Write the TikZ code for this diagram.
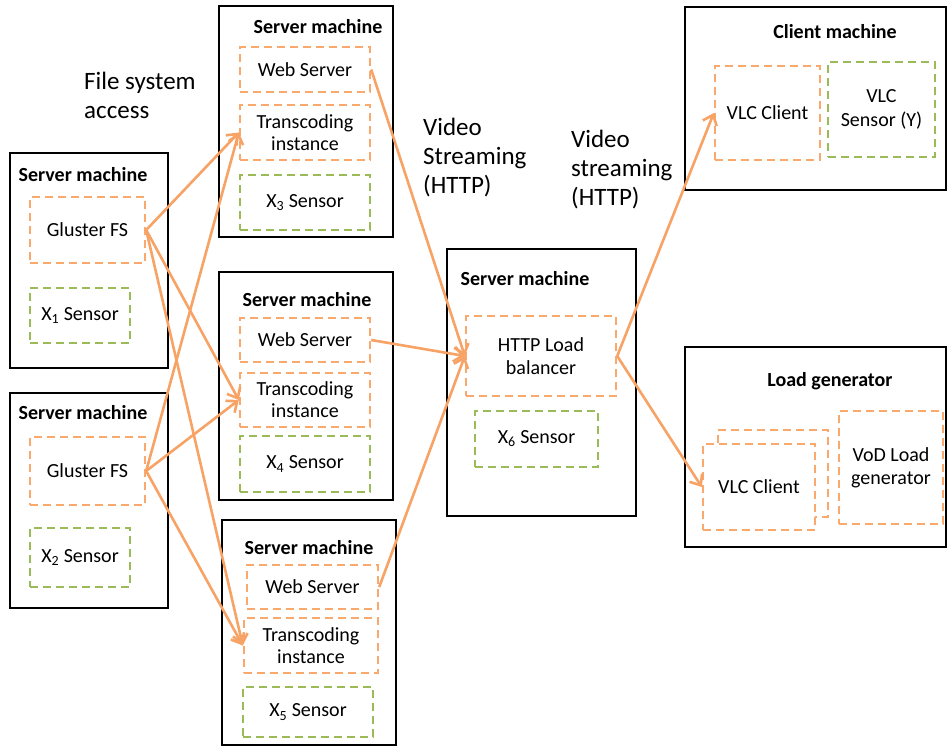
\documentclass[tikz,border=0pt]{standalone}
\usepackage{fontspec}
\setmainfont{Carlito}
\usetikzlibrary{arrows.meta}
\definecolor{orl}{HTML}{F8A366}
\definecolor{orb}{HTML}{F9A86E}
\definecolor{grb}{HTML}{9BBB59}
\tikzset{
  machine/.style={draw=black, line width=2.8pt, fill=white, inner sep=0pt},
  title/.style={font=\fontsize{20}{24}\selectfont\bfseries, inner sep=0pt},
  obox/.style={draw=orb, line width=2.4pt, dash pattern=on 8pt off 5pt, fill=white, align=center, inner sep=0pt, font=\fontsize{20}{24}\selectfont},
  gbox/.style={draw=grb, line width=2.4pt, dash pattern=on 8pt off 5pt, fill=white, align=center, inner sep=0pt, font=\fontsize{20}{24}\selectfont},
  lbl/.style={align=left, inner sep=0pt, anchor=west, font=\fontsize{25}{29}\selectfont},
  flow/.style={draw=orl, line width=2.6pt, -{Straight Barb[length=9pt,width=15pt,line width=2.6pt]}}
}
\begin{document}
\begin{tikzpicture}[x=1pt,y=-1pt]
\useasboundingbox (0,0) rectangle (948,747);
\fill[white] (0,0) rectangle (948,747);

% left servers
\node[machine, minimum width=158pt, minimum height=215pt] (L1) at (89,260.5) {};
\node[title] (L1t) at (83,175) {Server machine};
\node[obox, minimum width=115pt, minimum height=66pt] (G1) at (87.5,230) {Gluster FS};
\node[gbox, minimum width=100pt, minimum height=55pt] (X1) at (80,315.5) {X\textsubscript{1} Sensor};

\node[machine, minimum width=158pt, minimum height=215pt] (L2) at (89,500.5) {};
\node[title] (L2t) at (83,413) {Server machine};
\node[obox, minimum width=115pt, minimum height=68pt] (G2) at (87.5,471) {Gluster FS};
\node[gbox, minimum width=100pt, minimum height=59pt] (X2) at (80,557.5) {X\textsubscript{2} Sensor};

% middle servers
\node[machine, minimum width=174pt, minimum height=231pt] (M1) at (306,121.5) {};
\node[title] (M1t) at (318,27) {Server machine};
\node[obox, minimum width=130pt, minimum height=45pt] (W1) at (305,69.5) {Web Server};
\node[obox, minimum width=130pt, minimum height=55pt] (T1) at (305,132.5) {Transcoding\\[-2pt]instance};
\node[gbox, minimum width=130pt, minimum height=55pt] (X3) at (305,202.5) {X\textsubscript{3} Sensor};

\node[machine, minimum width=174pt, minimum height=228pt] (M2) at (306,386) {};
\node[title] (M2t) at (307,300) {Server machine};
\node[obox, minimum width=130pt, minimum height=44pt] (W2) at (305,340) {Web Server};
\node[obox, minimum width=130pt, minimum height=54pt] (T2) at (305,400) {Transcoding\\[-2pt]instance};
\node[gbox, minimum width=130pt, minimum height=56pt] (X4) at (305,464) {X\textsubscript{4} Sensor};

\node[machine, minimum width=174pt, minimum height=225pt] (M3) at (309,632.5) {};
\node[title] (M3t) at (309,548) {Server machine};
\node[obox, minimum width=131pt, minimum height=44pt] (W3) at (312.5,587) {Web Server};
\node[obox, minimum width=134pt, minimum height=55pt] (T3) at (311,645.5) {Transcoding\\[-2pt]instance};
\node[gbox, minimum width=130pt, minimum height=50pt] (X5) at (308,712) {X\textsubscript{5} Sensor};

% center server
\node[machine, minimum width=189pt, minimum height=267pt] (C) at (541.5,382.5) {};
\node[title] (Ct) at (525,279) {Server machine};
\node[obox, minimum width=150pt, minimum height=80pt] (LB) at (541,356) {HTTP Load\\[-1pt]balancer};
\node[gbox, minimum width=123pt, minimum height=56pt] (X6) at (536.5,439) {X\textsubscript{6} Sensor};

% client machine
\node[machine, minimum width=261pt, minimum height=183pt] (CM) at (815.5,98.5) {};
\node[title] (CMt) at (835,32) {Client machine};
\node[obox, minimum width=105pt, minimum height=94pt] (V1) at (767.5,113) {VLC Client};
\node[gbox, minimum width=107pt, minimum height=95pt] (VS) at (881.5,109.5) {VLC\\[0pt]Sensor (Y)};

% load generator
\node[machine, minimum width=261pt, minimum height=200pt] (LG) at (815.5,447) {};
\node[title] (LGt) at (830,381) {Load generator};
\node[obox, minimum width=110pt, minimum height=87pt] (Vb) at (773,473.5) {};
\node[obox, minimum width=112pt, minimum height=86pt] (V2) at (759,487) {VLC Client};
\node[obox, minimum width=104pt, minimum height=113pt] (VoD) at (891,467.5) {VoD Load\\[-1pt]generator};

% labels
\node[lbl] (fsa) at (84,95) {File system\\access};
\node[lbl] (vs1) at (423,158) {Video\\Streaming\\(HTTP)};
\node[lbl] (vs2) at (571,170) {Video\\streaming\\(HTTP)};

% connectors
\draw[flow] (G1.east) -- (T1.west);
\draw[flow] (G1.east) -- (T2.west);
\draw[flow] (G1.east) -- (T3.west);
\draw[flow] (G2.east) -- (T1.west);
\draw[flow] (G2.east) -- (T2.west);
\draw[flow] (G2.east) -- (T3.west);
\draw[flow] (W1.east) -- (LB.west);
\draw[flow] (W2.east) -- (LB.west);
\draw[flow] (W3.east) -- (LB.west);
\draw[flow] (LB.east) -- (V1.west);
\draw[flow] (LB.east) -- (V2.west);
\end{tikzpicture}
\end{document}
